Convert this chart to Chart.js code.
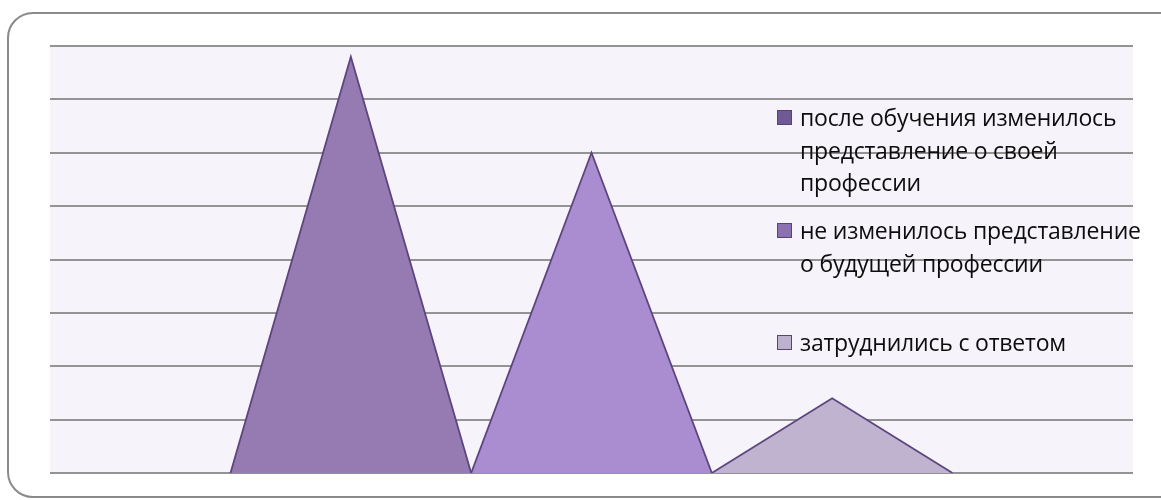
<!DOCTYPE html>
<html>
<head>
<meta charset="utf-8">
<script src="https://cdn.jsdelivr.net/npm/chart.js@4.4.0/dist/chart.umd.min.js"></script>
<style>
  html, body { margin: 0; padding: 0; background: #fff; }
  #wrap { position: relative; width: 1161px; height: 500px; overflow: hidden; }
  #frame { position: absolute; left: 7px; top: 12px; width: 1220px; height: 486px;
           border: 2px solid #8a8a8a; border-radius: 26px; box-sizing: border-box; }
  canvas { position: absolute; left: 0; top: 0; }
  #legend { position: absolute; left: 0; top: 0; font-family: "Open Sans", sans-serif;
            font-size: 23px; letter-spacing: -0.2px; color: #0d0d0d; }
  .item { position: absolute; left: 777px; width: 380px; line-height: 32.5px; white-space: nowrap; }
  .box { position: absolute; left: 0; top: 9px; width: 15px; height: 15px;
         border: 1.5px solid #56437a; box-sizing: border-box; }
  .txt { margin-left: 23px; }
</style>
</head>
<body>
<div id="wrap">
  <div id="frame"></div>
  <canvas id="chart" width="1161" height="500"></canvas>
  <div id="legend"></div>
</div>
<script>
// series (one category, three triangles)
const seriesLines = [
  ['после обучения изменилось', 'представление о своей', 'профессии'],
  ['не изменилось представление', 'о будущей профессии'],
  ['затруднились с ответом']
];
const seriesValues = [78, 60, 14];
const fillColors = ['#967bb2', '#a98dd0', '#bfb3cf'];
const legendColors = ['#6f5a96', '#8a72b2', '#bdb1cd'];
const yTicks = { min: 0, max: 80, step: 10 };

// excel-like gap width 150% around the three series
const gap = 0.75;

const datasets = seriesValues.map((v, i) => ({
  label: seriesLines[i].join(' '),
  data: [
    { x: gap + i, y: 0 },
    { x: gap + i + 0.5, y: v },
    { x: gap + i + 1, y: 0 }
  ],
  showLine: true,
  fill: 'origin',
  backgroundColor: fillColors[i],
  borderColor: '#5b4680',
  borderWidth: 1.8,
  pointRadius: 0,
  tension: 0
}));

const plotBg = {
  id: 'plotBg',
  beforeDraw(chart) {
    const { ctx, chartArea: a } = chart;
    ctx.save();
    ctx.fillStyle = '#f6f4fa';
    ctx.fillRect(a.left, a.top, a.right - a.left, a.bottom - a.top);
    ctx.restore();
  }
};

new Chart(document.getElementById('chart'), {
  type: 'scatter',
  data: { datasets },
  options: {
    responsive: false,
    animation: false,
    layout: { padding: { left: 50, top: 46, right: 28, bottom: 27 } },
    plugins: { legend: { display: false }, tooltip: { enabled: false } },
    scales: {
      x: { type: 'linear', min: 0, max: gap * 2 + seriesValues.length, display: false },
      y: {
        min: yTicks.min, max: yTicks.max,
        ticks: { display: false, stepSize: yTicks.step },
        grid: { color: '#939393', lineWidth: 2, drawTicks: false },
        border: { display: false }
      }
    }
  },
  plugins: [plotBg]
});

// legend, placed over the plot like the original
const legendTops = [101, 214, 326];
const legend = document.getElementById('legend');
seriesLines.forEach((lines, i) => {
  const item = document.createElement('div');
  item.className = 'item';
  item.style.top = legendTops[i] + 'px';
  item.innerHTML = '<div class="box" style="background:' + legendColors[i] + '"></div>' +
    '<div class="txt">' + lines.join('<br>') + '</div>';
  legend.appendChild(item);
});
</script>
</body>
</html>
